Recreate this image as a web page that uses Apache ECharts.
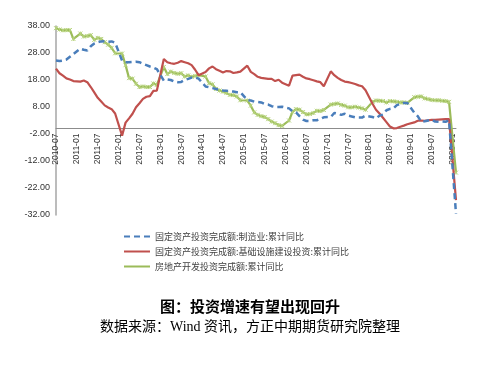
<!DOCTYPE html>
<html>
<head>
<meta charset="utf-8">
<script src="https://cdn.jsdelivr.net/npm/echarts@6/dist/echarts.min.js"></script>
<style>
html,body{margin:0;padding:0;background:#fff;}
#chart{width:500px;height:366px;}
</style>
</head>
<body>
<div id="chart"></div>
<script>
// Categories: monthly from 2010-07 to 2020-02
var categories = [];
(function(){
  var y = 2010, m = 7;
  while (y < 2020 || (y === 2020 && m <= 2)) {
    categories.push(y + '-' + (m < 10 ? '0' + m : m));
    m++; if (m > 12) { m = 1; y++; }
  }
})();

var seriesNames = [
  '固定资产投资完成额:制造业:累计同比',
  '固定资产投资完成额:基础设施建设投资:累计同比',
  '房地产开发投资完成额:累计同比'
];

var manufacturing = [
  25.2, 25.0, 25.2, 25.6, 26.6, 27.6,
  null, 29.6, 29.2, 28.9, 30.5, 31.5, 32.0, 32.3, 32.4, 32.2, 32.3, 31.8,
  null, 25.2, 24.6, 24.6, 24.7, 24.8, 24.6, 24.0, 23.5, 23.0, 22.6, 22.0,
  null, 17.8, 18.2, 18.0, 17.4, 17.2, 17.3, 18.0, 18.4, 18.9, 19.0, 18.5,
  null, 15.6, 15.3, 15.0, 14.7, 14.4, 14.1, 14.0, 13.8, 13.7, 13.5, 13.5,
  null, 10.6, 10.4, 10.0, 9.9, 9.7, 9.1, 8.9, 8.3, 8.0, 8.0, 8.1,
  null, 7.5, 6.4, 6.0, 4.6, 3.3, 2.8, 2.8, 3.1, 3.1, 3.6, 4.2,
  null, 4.3, 5.8, 5.5, 5.1, 5.5, 4.8, 4.5, 4.2, 4.1, 4.1, 4.8,
  null, 4.3, 3.8, 4.8, 5.2, 6.8, 7.3, 7.5, 8.7, 9.1, 9.5, 9.5,
  null, 5.9, 4.6, 2.5, 2.7, 3.0, 3.3, 2.6, 2.5, 2.6, 2.5, 3.1,
  null, -31.5
];

var infrastructure = [
  22.2, 20.5, 19.6, 18.6, 18.2, 17.6,
  null, 17.4, 17.8, 17.2, 15.4, 13.4, 11.4, 10.0, 8.6, 7.8, 7.2, 5.6,
  null, -2.6, 2.2, 3.8, 5.5, 7.9, 9.4, 11.0, 11.8, 12.0, 14.0, 14.1,
  null, 25.8, 24.6, 24.2, 24.0, 24.4, 25.0, 24.6, 24.2, 23.5, 21.8, 19.8,
  null, 21.0, 22.3, 23.0, 22.0, 21.4, 20.8, 21.3, 21.2, 20.6, 20.8, 21.1,
  null, 23.3, 21.0, 20.2, 19.2, 18.8, 18.6, 18.4, 18.4, 17.6, 18.1, 17.0,
  null, 15.9, 19.6, 19.8, 20.0, 19.2, 18.6, 18.3, 17.9, 17.5, 17.2, 15.7,
  null, 21.2, 19.8, 18.8, 18.0, 17.4, 17.2, 16.9, 16.5, 16.0, 15.7, 14.2,
  null, 9.2, 7.0, 5.6, 4.0, 2.4, 0.8, 0.1, 0.2, 0.7, 1.1, 1.6,
  null, 2.3, 2.9, 3.0, 2.9, 3.1, 3.2, 3.2, 3.3, 3.4, 3.5, 3.5,
  null, -26.5
];

var realEstate = [
  37.2, 36.7, 36.4, 36.5, 36.5, 33.2,
  null, 35.2, 34.1, 34.3, 34.6, 32.9, 33.6, 33.2, 32.0, 31.1, 29.9, 27.9,
  null, 27.8, 23.5, 18.7, 18.5, 16.6, 15.4, 15.6, 15.4, 15.4, 16.7, 16.2,
  null, 22.8, 20.2, 21.1, 20.6, 20.3, 20.5, 19.3, 19.7, 19.2, 19.5, 19.8,
  null, 19.3, 16.8, 16.4, 14.7, 14.1, 13.7, 13.2, 12.5, 12.4, 11.9, 10.5,
  null, 10.4, 8.5, 6.0, 5.1, 4.6, 4.3, 3.5, 2.6, 2.0, 1.3, 1.0,
  null, 3.0, 6.2, 7.2, 7.0, 6.1, 5.3, 5.4, 5.8, 6.6, 6.5, 6.9,
  null, 8.9, 9.1, 9.3, 8.8, 8.5, 7.9, 7.9, 8.1, 7.8, 7.5, 7.0,
  null, 9.9, 10.4, 10.3, 10.2, 9.7, 10.2, 10.1, 9.9, 9.7, 9.7, 9.5,
  null, 11.6, 11.8, 11.9, 11.2, 10.9, 10.6, 10.5, 10.5, 10.3, 10.2, 9.9,
  null, -16.3
];

var titleText = '图：投资增速有望出现回升';
var sourceText = '数据来源：Wind 资讯，方正中期期货研究院整理';

var chart = echarts.init(document.getElementById('chart'), null, {renderer: 'canvas'});
chart.setOption({
  animation: false,
  backgroundColor: '#ffffff',
  title: [
    {text: titleText, left: 'center', top: 294,
     textStyle: {fontSize: 15, fontWeight: 'bold', color: '#000', fontFamily: "'Noto Sans CJK SC', sans-serif"}},
    {text: sourceText, left: 'center', top: 315,
     textStyle: {fontSize: 14, fontWeight: 'normal', color: '#000', fontFamily: "'Liberation Serif', 'Noto Sans CJK SC', serif"}}
  ],
  legend: {
    orient: 'vertical',
    left: 118, top: 227,
    itemWidth: 26, itemHeight: 8, itemGap: 6,
    textStyle: {fontSize: 9, color: '#404040', fontFamily: "'Noto Sans CJK SC', sans-serif"},
    data: [
      {name: seriesNames[0], itemStyle: {opacity: 0}},
      {name: seriesNames[1], itemStyle: {opacity: 0}},
      {name: seriesNames[2], itemStyle: {opacity: 0}}
    ]
  },
  grid: {left: 56, right: 44, top: 26, bottom: 151, containLabel: false},
  xAxis: {
    type: 'category',
    data: categories,
    boundaryGap: false,
    axisLine: {onZero: false, lineStyle: {color: '#8c8c8c', width: 1}},
    axisTick: {show: false},
    axisLabel: {interval: 5, rotate: 90, fontSize: 8.5, color: '#333', margin: 5,
                fontFamily: "'Liberation Sans', sans-serif"},
    splitLine: {show: false}
  },
  yAxis: {
    type: 'value',
    min: -32, max: 38, interval: 10,
    axisLine: {show: true, lineStyle: {color: '#a6a6a6', width: 1.5}},
    axisTick: {show: false},
    splitLine: {show: false},
    axisLabel: {fontSize: 9, color: '#333', margin: 6,
                fontFamily: "'Liberation Sans', sans-serif",
                formatter: function(v){ return v.toFixed(2); }}
  },
  series: [
    {name: seriesNames[0], type: 'line', data: manufacturing, connectNulls: true,
     symbol: 'none', color: '#4a7ebb', z: 3,
     lineStyle: {color: '#4a7ebb', width: 2.5, type: [6, 4]}},
    {name: seriesNames[1], type: 'line', data: infrastructure, connectNulls: true,
     symbol: 'none', color: '#c0504d', z: 2,
     lineStyle: {color: '#c0504d', width: 2.2}},
    {name: seriesNames[2], type: 'line', data: realEstate, connectNulls: true,
     symbol: 'path://M0 0L10 10M10 0L0 10M5 0L5 10', symbolSize: 4, showAllSymbol: true,
     color: '#9bbb59', z: 1,
     itemStyle: {color: '#b5d27a', borderColor: '#b5d27a', borderWidth: 1},
     lineStyle: {color: '#9bbb59', width: 2.2}}
  ]
});
// place the category axis on the zero line (axis + labels together)
var zeroY = chart.convertToPixel({yAxisIndex: 0}, 0);
var bottomY = chart.convertToPixel({yAxisIndex: 0}, -32);
chart.setOption({xAxis: {offset: -(bottomY - zeroY)}});
</script>
</body>
</html>
